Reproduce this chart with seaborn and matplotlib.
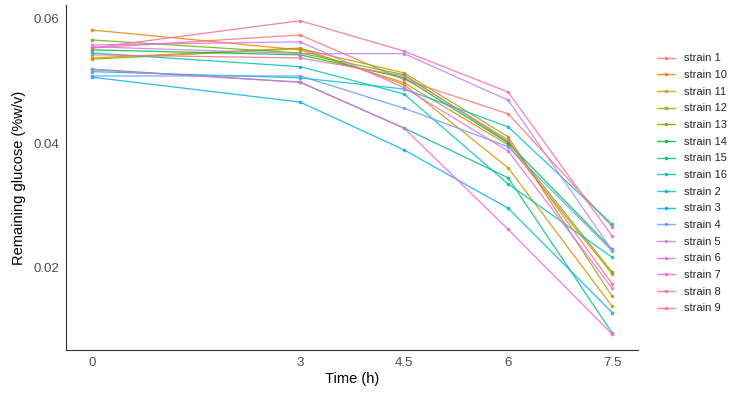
import pandas as pd
import seaborn as sns
import matplotlib.pyplot as plt

times = [0, 3, 4.5, 6, 7.5]
time_labels = ["0", "3", "4.5", "6", "7.5"]

strain_order = ["strain 1", "strain 10", "strain 11", "strain 12", "strain 13",
                "strain 14", "strain 15", "strain 16", "strain 2", "strain 3",
                "strain 4", "strain 5", "strain 6", "strain 7", "strain 8", "strain 9"]

# remaining glucose (%w/v) per strain at each time point
strain_1 = [0.0553, 0.0574, 0.0502, 0.0447, 0.0265]
strain_10 = [0.0582, 0.0550, 0.0497, 0.0397, 0.0189]
strain_11 = [0.0537, 0.0553, 0.0494, 0.0360, 0.0137]
strain_12 = [0.0535, 0.0552, 0.0513, 0.0410, 0.0153]
strain_13 = [0.0566, 0.0545, 0.0510, 0.0402, 0.0192]
strain_14 = [0.0550, 0.0542, 0.0505, 0.0400, 0.0229]
strain_15 = [0.0519, 0.0498, 0.0424, 0.0344, 0.0094]
strain_16 = [0.0545, 0.0523, 0.0479, 0.0334, 0.0216]
strain_2 = [0.0515, 0.0505, 0.0487, 0.0426, 0.0269]
strain_3 = [0.0506, 0.0466, 0.0389, 0.0295, 0.0127]
strain_4 = [0.0508, 0.0508, 0.0456, 0.0394, 0.0226]
strain_5 = [0.0555, 0.0544, 0.0544, 0.0469, 0.0227]
strain_6 = [0.0558, 0.0563, 0.0489, 0.0387, 0.0166]
strain_7 = [0.0518, 0.0498, 0.0424, 0.0261, 0.0092]
strain_8 = [0.0553, 0.0597, 0.0548, 0.0482, 0.0250]
strain_9 = [0.0542, 0.0537, 0.0508, 0.0405, 0.0173]

values = [strain_1, strain_10, strain_11, strain_12, strain_13, strain_14,
          strain_15, strain_16, strain_2, strain_3, strain_4, strain_5,
          strain_6, strain_7, strain_8, strain_9]

rows = []
for name, vals in zip(strain_order, values):
    for t, v in zip(times, vals):
        rows.append({"strain": name, "time": t, "glucose": v})
df = pd.DataFrame(rows)

# ggplot default hue palette for 16 levels
palette = ["#F8766D", "#E58700", "#C99800", "#A3A500", "#6BB100", "#00BA38",
           "#00BF7D", "#00C0AF", "#00BCD8", "#00B0F6", "#619CFF", "#B983FF",
           "#E76BF3", "#FD61D1", "#FF67A4", "#FF6C91"]

sns.set_style("white")
plt.rcParams['font.family'] = ['Liberation Sans', 'DejaVu Sans']

fig = plt.figure(figsize=(7.5, 3.98), dpi=100)
ax = fig.add_axes([0.088, 0.121, 0.763, 0.866])

sns.lineplot(df, x="time", y="glucose", hue="strain", hue_order=strain_order,
             palette=palette, marker="o", markersize=2.6, markeredgewidth=0,
             linewidth=0.9, alpha=0.85, ax=ax)

ax.set_xlim(-0.375, 7.875)
ax.set_ylim(0.0067, 0.0622)
ax.set_xticks(times)
ax.set_xticklabels(time_labels)
ax.set_yticks([0.02, 0.04, 0.06])
ax.set_yticklabels(["0.02", "0.04", "0.06"])
ax.tick_params(axis="both", length=3, width=0.8, color="#333333",
               labelsize=9.5, labelcolor="#4D4D4D", direction="out", pad=2)
ax.set_xlabel("Time (h)", fontsize=10.5, color="black", labelpad=2)
ax.set_ylabel("Remaining glucose (%w/v)", fontsize=10.5, color="black", labelpad=5)
for side in ["top", "right"]:
    ax.spines[side].set_visible(False)
for side in ["left", "bottom"]:
    ax.spines[side].set_color("#333333")
    ax.spines[side].set_linewidth(0.8)

leg = ax.legend(loc="upper left", bbox_to_anchor=(1.025, 0.873), frameon=False,
                fontsize=8, handlelength=1.6, labelspacing=0.6,
                handletextpad=0.8, borderaxespad=0)
for line in leg.get_lines():
    line.set_linewidth(1.0)

fig.savefig("out.png", dpi=100)
